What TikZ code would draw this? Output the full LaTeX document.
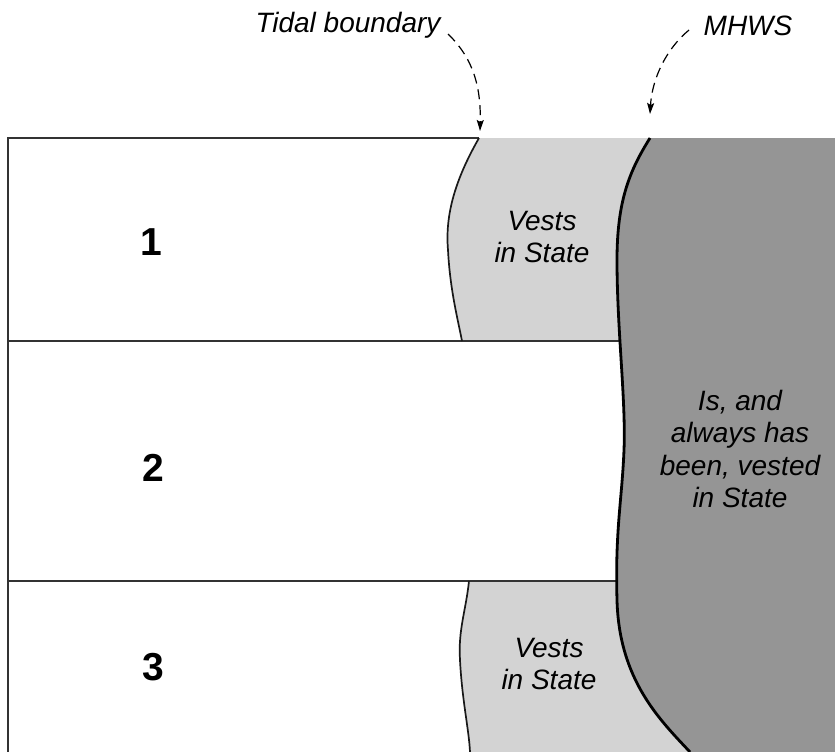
\documentclass[tikz,border=0pt]{standalone}
\usepackage{fontspec}
\setmainfont{Liberation Sans}
\usetikzlibrary{arrows.meta}
\definecolor{lightfill}{HTML}{D3D3D3}
\definecolor{darkfill}{HTML}{959595}
\begin{document}
\begin{tikzpicture}[x=1pt,y=-1pt,
  frameline/.style={draw=black!80, line width=1.8pt},
  tidalline/.style={draw=black!90, line width=1.7pt},
  mhwsline/.style={draw=black, line width=2.8pt},
  ital/.style={font=\fontsize{28}{32.5}\selectfont\itshape, align=center, inner sep=0pt},
  num/.style={font=\fontsize{39}{40}\selectfont\bfseries, inner sep=0pt},
  callout/.style={draw=black, line width=1.2pt, dash pattern=on 10pt off 6pt, -{Stealth[length=11pt,width=7pt,inset=2pt]}}]
\useasboundingbox (0,0) rectangle (835,752);
% light grey strips
\fill[lightfill] (479,138) .. controls (455,180) and (445,215) .. (448,250)
  .. controls (450,290) and (458,320) .. (462,341) -- (700,341) -- (700,138) -- cycle;
\fill[lightfill] (469,581) .. controls (466,610) and (458,630) .. (460,660)
  .. controls (462,700) and (469,730) .. (470,752) -- (700,752) -- (700,581) -- cycle;
% frame lines
\draw[frameline] (479,138) -- (8,138) -- (8,752);
\draw[frameline] (8,341) -- (640,341);
\draw[frameline] (8,581) -- (640,581);
% tidal boundary curves
\draw[tidalline] (479,138) .. controls (455,180) and (445,215) .. (448,250)
  .. controls (450,290) and (458,320) .. (462,341);
\draw[tidalline] (469,581) .. controls (466,610) and (458,630) .. (460,660)
  .. controls (462,700) and (469,730) .. (470,752);
% dark area (MHWS)
\fill[darkfill] (650,138) .. controls (630,170) and (617,200) .. (617,260)
  .. controls (617,330) and (626,400) .. (624,450)
  .. controls (622,500) and (615,530) .. (617,600)
  .. controls (619,680) and (660,720) .. (690,752) -- (835,752) -- (835,138) -- cycle;
\draw[mhwsline] (650,138) .. controls (630,170) and (617,200) .. (617,260)
  .. controls (617,330) and (626,400) .. (624,450)
  .. controls (622,500) and (615,530) .. (617,600)
  .. controls (619,680) and (660,720) .. (690,752);
% labels
\node[num] (n1) at (151,242) {1};
\node[num] (n2) at (153,468) {2};
\node[num] (n3) at (153,667) {3};
\node[ital] (v1) at (542,237) {Vests\\in State};
\node[ital] (v3) at (549,664) {Vests\\in State};
\node[ital] (st) at (740,449) {Is, and\\always has\\been, vested\\in State};
\node[ital, anchor=base] (tb) at (348,33) {Tidal boundary};
\node[ital, anchor=base] (mh) at (748,36) {MHWS};
% callouts
\coordinate (tbs) at (448,34);
\coordinate (tbe) at (480,131);
\coordinate (mhs) at (689,30);
\coordinate (mhe) at (650,114);
\draw[callout] (tbs) .. controls (475,60) and (481,90) .. (tbe);
\draw[callout] (mhs) .. controls (665,50) and (652,80) .. (mhe);
\end{tikzpicture}
\end{document}
